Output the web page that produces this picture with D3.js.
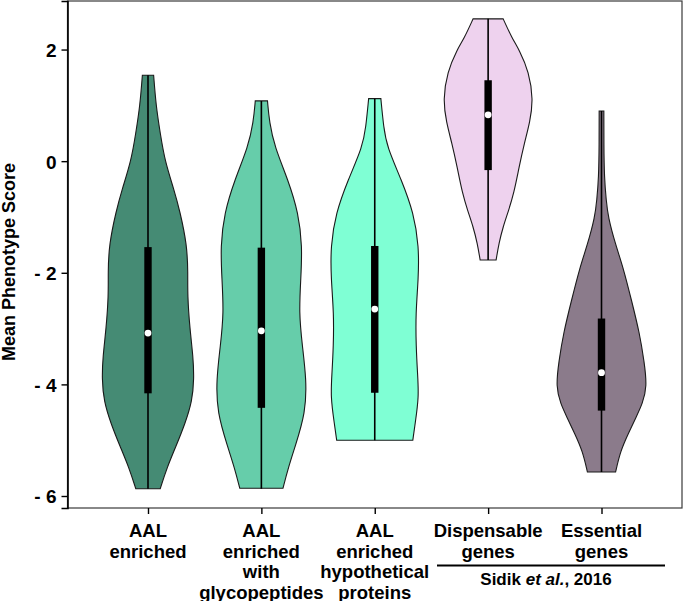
<!DOCTYPE html>
<html>
<head>
<meta charset="utf-8">
<script src="https://cdn.jsdelivr.net/npm/d3@7"></script>
<style>
  html, body { margin: 0; padding: 0; background: #fff; }
  svg { display: block; }
  text { font-family: "Liberation Sans", Arial, sans-serif; font-weight: bold; fill: #000; }
</style>
</head>
<body>
<svg id="chart" width="683" height="601"></svg>
<script>
// ---------- data ----------
const categories = ["AAL enriched", "AAL enriched with glycopeptides", "AAL enriched hypothetical proteins", "Dispensable genes", "Essential genes"];
const categoryLines = [
  ["AAL", "enriched"],
  ["AAL", "enriched", "with", "glycopeptides"],
  ["AAL", "enriched", "hypothetical", "proteins"],
  ["Dispensable", "genes"],
  ["Essential", "genes"]
];
const colors = ["#458B74", "#66CDAA", "#7FFFD4", "#EED2EE", "#8B7B8B"];

// density profiles (score, relative density)
const profileScores = [
  [1.54, 1.0, 0.5, 0.0, -0.5, -0.9, -1.5, -2.0, -2.4, -3.0, -3.5, -3.9, -4.3, -4.7, -5.1, -5.5, -5.87],
  [1.08, 0.7, 0.26, -0.34, -0.93, -1.53, -2.1, -2.72, -3.3, -3.92, -4.51, -5.11, -5.5, -5.86],
  [1.12, 0.6, 0.26, -0.34, -0.93, -1.53, -2.1, -2.73, -3.33, -3.8, -4.22, -4.7, -5.0],
  [2.55, 2.2, 2.0, 1.6, 1.1, 0.7, 0.32, -0.1, -0.57, -0.9, -1.17, -1.47, -1.77],
  [0.9, 0.3, -0.3, -0.7, -1.0, -1.5, -1.9, -2.5, -3.08, -3.6, -4.04, -4.35, -4.58, -4.88, -5.2, -5.57]
];
const profileDensity = [
  [0.12, 0.17, 0.26, 0.36, 0.55, 0.68, 0.83, 0.85, 0.84, 0.89, 0.96, 0.98, 0.94, 0.79, 0.60, 0.40, 0.26],
  [0.13, 0.17, 0.28, 0.57, 0.79, 0.87, 0.84, 0.80, 0.87, 0.96, 0.94, 0.72, 0.57, 0.46],
  [0.13, 0.19, 0.26, 0.57, 0.83, 0.94, 0.93, 0.87, 0.88, 0.91, 0.94, 0.86, 0.81],
  [0.32, 0.51, 0.66, 0.87, 0.96, 0.89, 0.77, 0.66, 0.55, 0.43, 0.32, 0.23, 0.17],
  [0.05, 0.05, 0.06, 0.10, 0.14, 0.30, 0.46, 0.64, 0.81, 0.91, 0.97, 0.87, 0.74, 0.57, 0.40, 0.30]
];
// summary statistics
const minValues    = [-5.87, -5.87, -5.0, -1.77, -5.57];
const q1Values     = [-4.16, -4.42, -4.15, -0.16, -4.47];
const medianValues = [-3.08, -3.04, -2.65, 0.83, -3.79];
const q3Values     = [-1.54, -1.55, -1.52, 1.45, -2.82];
const maxValues    = [1.54, 1.08, 1.12, 2.55, 0.9];

const yTicks = [2, 0, -2, -4, -6];
const yTickLabels = ["2", "0", "- 2", "- 4", "- 6"];

// ---------- layout ----------
const svg = d3.select("#chart");
const plot = { left: 67.5, right: 682, top: 1, bottom: 508 };

const x = d3.scalePoint().domain(categories).range([plot.left, plot.right]).padding(0.71);
const y = d3.scaleLinear().domain([-6.215, 2.87]).range([plot.bottom, plot.top]);
const w = d3.scaleLinear().domain([0, 1]).range([0, 47]);

// frame
svg.append("rect")
  .attr("x", plot.left).attr("y", plot.top)
  .attr("width", plot.right - plot.left).attr("height", plot.bottom - plot.top)
  .attr("fill", "none").attr("stroke", "#3a3a3a").attr("stroke-width", 1.2);

// violins
categories.forEach((c, i) => {
  const cx = x(c);
  const pts = profileScores[i].map((s, k) => ({ s, d: profileDensity[i][k] }));
  const area = d3.area()
    .y(p => y(p.s))
    .x0(p => cx - w(p.d))
    .x1(p => cx + w(p.d))
    .curve(d3.curveBasis);
  svg.append("path")
    .attr("d", area(pts) )
    .attr("fill", colors[i])
    .attr("stroke", "#1a1a1a")
    .attr("stroke-width", 1.1);
  // whisker
  svg.append("line")
    .attr("x1", cx).attr("x2", cx)
    .attr("y1", y(maxValues[i])).attr("y2", y(minValues[i]))
    .attr("stroke", "#000").attr("stroke-width", 1.6);
  // box
  svg.append("rect")
    .attr("x", cx - 3.7).attr("width", 7.4)
    .attr("y", y(q3Values[i])).attr("height", y(q1Values[i]) - y(q3Values[i]))
    .attr("fill", "#000");
  // median
  svg.append("circle")
    .attr("cx", cx).attr("cy", y(medianValues[i])).attr("r", 3.4)
    .attr("fill", "#fff");
});

// y axis
const yAxis = d3.axisLeft(y).tickValues(yTicks).tickSize(6).tickPadding(5)
  .tickFormat((d, i) => yTickLabels[i]);
const gy = svg.append("g").attr("transform", `translate(${plot.left},0)`).call(yAxis);
gy.select(".domain").attr("stroke", "#000").attr("stroke-width", 1.6);
gy.selectAll(".tick line").attr("stroke", "#000").attr("stroke-width", 1.4);
gy.selectAll(".tick text").style("font-size", "19px").style("font-family", "Liberation Sans, Arial, sans-serif")
  .style("font-weight", "bold").attr("fill", "#000").attr("dy", "0.36em");

// x axis ticks
const xAxis = d3.axisBottom(x).tickSize(6).tickFormat("");
const gx = svg.append("g").attr("transform", `translate(0,${plot.bottom})`).call(xAxis);
gx.select(".domain").remove();
gx.selectAll(".tick line").attr("stroke", "#000").attr("stroke-width", 1.4);

// x labels
categories.forEach((c, i) => {
  const t = svg.append("text").attr("text-anchor", "middle").style("font-size", "18.5px");
  categoryLines[i].forEach((line, k) => {
    t.append("tspan").attr("x", x(c)).attr("y", 537 + k * 20.5).text(line);
  });
});

// y title
svg.append("text")
  .attr("transform", "translate(15,262) rotate(-90)")
  .attr("text-anchor", "middle")
  .style("font-size", "18px")
  .text("Mean Phenotype Score");

// Sidik bracket
svg.append("line")
  .attr("x1", 437).attr("x2", 665).attr("y1", 565.5).attr("y2", 565.5)
  .attr("stroke", "#000").attr("stroke-width", 2);
const s = svg.append("text").attr("x", 546).attr("y", 585).attr("text-anchor", "middle").style("font-size", "17px");
s.append("tspan").text("Sidik ");
s.append("tspan").style("font-style", "italic").text("et al.");
s.append("tspan").text(", 2016");
</script>
</body>
</html>
